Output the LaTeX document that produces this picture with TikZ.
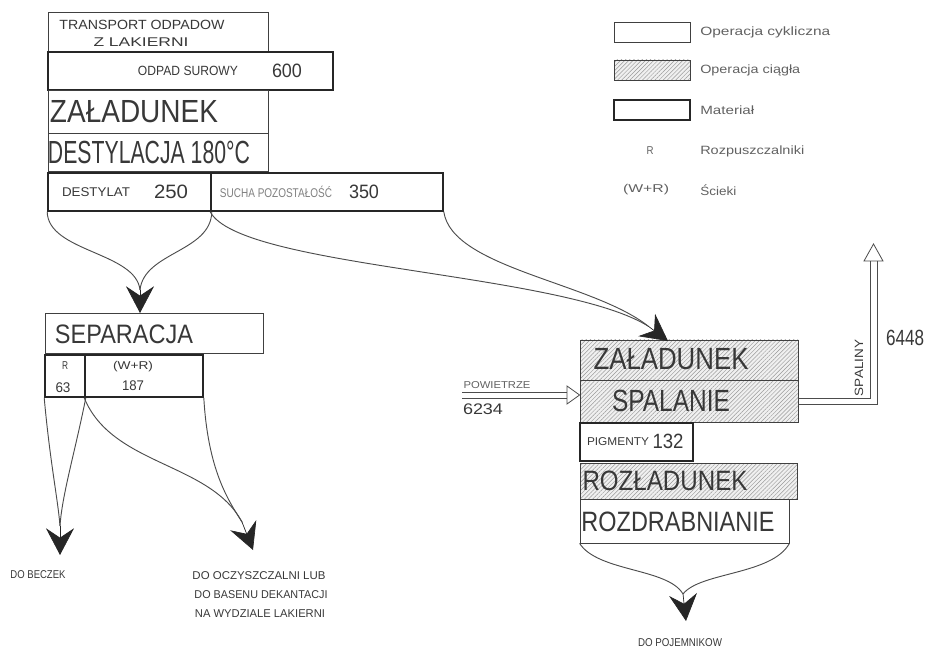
\documentclass[tikz,border=0pt]{standalone}
\usepackage{fontspec}
\setmainfont{Liberation Sans}
\usetikzlibrary{arrows.meta,patterns.meta,fit}
\newlength\px \setlength\px{0.75pt}
\newcommand\fw[2]{\resizebox{#1\px}{\height}{#2}}
\newcommand\fsz[1]{\fontsize{#1}{#1}\selectfont}
\begin{document}
\begin{tikzpicture}[x=0.75pt,y=-0.75pt,
  cyc/.style={draw=black!75, line width=0.6pt, inner sep=0pt},
  mat/.style={draw=black!85, line width=1.2pt, inner sep=0pt},
  hat/.style={draw=black!75, line width=0.6pt, inner sep=0pt, preaction={fill=black!6},
     pattern={Lines[angle=45,distance=2.2pt,line width=0.35pt]}, pattern color=black!40},
  tx/.style={inner sep=0pt, text=black!78},
  lt/.style={inner sep=0pt, text=black!62},
  cur/.style={draw=black!70, line width=0.7pt},
  hd/.style={draw=black!85, fill=black!85, line width=0.5pt, -{Stealth[length=20pt,width=21pt,inset=7pt]}},
  dl/.style={draw=black!70, line width=0.6pt},
  ohd/.style={draw=black!70, line width=0.6pt, fill=white}
]
\useasboundingbox (0,0) rectangle (925,652);

% ---------- left column boxes
\node[cyc, fit={(48,12)(268,52)}] (tr) {};
\node[mat, fit={(48,52)(333,90)}] (odp) {};
\node[cyc, fit={(48,90)(268,133)}] (zal1) {};
\node[cyc, fit={(48,133)(268,171)}] (des) {};
\node[mat, fit={(48,173)(211,211)}] (dst) {};
\node[mat, fit={(211,173)(443,211)}] (suc) {};

\node[tx, font=\fsz{10}] (t1) at (142,25) {\fw{165}{TRANSPORT ODPADOW}};
\node[tx, font=\fsz{9.5}] (t2) at (141,42) {\fw{95}{Z LAKIERNI}};
\node[tx, font=\fsz{10}] (t3) at (188,71) {\fw{100}{ODPAD SUROWY}};
\node[tx, font=\fsz{14.5}] (t4) at (287,71) {\fw{30}{600}};
\node[tx, font=\fsz{24}] (t5) at (134,112) {\fw{168}{ZAŁADUNEK}};
\node[tx, font=\fsz{24}] (t6) at (149,152) {\fw{202}{DESTYLACJA 180°C}};
\node[tx, font=\fsz{9.5}] (t7) at (96,192) {\fw{68}{DESTYLAT}};
\node[tx, font=\fsz{14.5}] (t8) at (171,192) {\fw{34}{250}};
\node[lt, font=\fsz{9.5}, text=black!50] (t9) at (276,192) {\fw{112}{SUCHA POZOSTAŁOŚĆ}};
\node[tx, font=\fsz{14.5}] (t10) at (364,192) {\fw{30}{350}};

% ---------- separation
\node[cyc, fit={(45,313)(263,353)}] (sep) {};
\node[mat, fit={(45,355)(85,397)}] (rb) {};
\node[mat, fit={(85,355)(203,397)}] (wrb) {};
\node[tx, font=\fsz{20}] (t11) at (124,334) {\fw{138}{SEPARACJA}};
\node[tx, font=\fsz{8.5}] (t12) at (65,366) {\fw{6}{R}};
\node[tx, font=\fsz{10.5}] (t13) at (63,388) {\fw{15}{63}};
\node[tx, font=\fsz{8.5}] (t14) at (133,367) {\fw{40}{(W+R)}};
\node[tx, font=\fsz{10.5}] (t15) at (133,386) {\fw{22}{187}};

\node[tx, font=\fsz{8.5}] (t16) at (38,575) {\fw{55}{DO BECZEK}};
\node[tx, font=\fsz{8.5}] (t17) at (259,576) {\fw{133}{DO OCZYSZCZALNI LUB}};
\node[tx, font=\fsz{8.5}] (t18) at (261,595) {\fw{133}{DO BASENU DEKANTACJI}};
\node[tx, font=\fsz{8.5}] (t19) at (260,614) {\fw{130}{NA WYDZIALE LAKIERNI}};

% ---------- right column
\node[hat, fit={(580,340)(798,380)}] (zal2) {};
\node[hat, fit={(580,380)(798,422)}] (spal) {};
\node[mat, fit={(580,423)(693,461)}] (pig) {};
\node[hat, fit={(580,463)(797,499)}] (rozl) {};
\node[cyc, fit={(580,499)(789,543)}] (rozd) {};
\node[tx, font=\fsz{23}] (t20) at (671,359) {\fw{155}{ZAŁADUNEK}};
\node[tx, font=\fsz{23}] (t21) at (671,401) {\fw{118}{SPALANIE}};
\node[tx, font=\fsz{8.5}] (t22) at (618,442) {\fw{62}{PIGMENTY}};
\node[tx, font=\fsz{15.5}] (t23) at (668,441) {\fw{31}{132}};
\node[tx, font=\fsz{21}] (t24) at (665,481) {\fw{165}{ROZŁADUNEK}};
\node[tx, font=\fsz{21}] (t25) at (678,522) {\fw{193}{ROZDRABNIANIE}};
\node[tx, font=\fsz{8.5}] (t26) at (680,643) {\fw{84}{DO POJEMNIKOW}};

\node[lt, font=\fsz{7.5}] (t27) at (497,385) {\fw{67}{POWIETRZE}};
\node[tx, font=\fsz{11.5}] (t28) at (483,409) {\fw{40}{6234}};
\node[tx, font=\fsz{9}, rotate=90] (t29) at (859,368) {\fw{56}{SPALINY}};
\node[tx, font=\fsz{16.5}] (t30) at (905,338) {\fw{38}{6448}};

% ---------- legend
\node[cyc, fit={(614,22)(690,42)}] (lg1) {};
\node[hat, fit={(614,60)(690,80)}] (lg2) {};
\node[mat, fit={(614,100)(690,120)}] (lg3) {};
\node[lt, font=\fsz{9}, anchor=west] (l1) at (700,32) {\fw{130}{Operacja cykliczna}};
\node[lt, font=\fsz{9}, anchor=west] (l2) at (700,70) {\fw{100}{Operacja ciągła}};
\node[lt, font=\fsz{9}, anchor=west] (l3) at (700,110) {\fw{54}{Materiał}};
\node[lt, font=\fsz{9}, anchor=west] (l4) at (700,151) {\fw{104}{Rozpuszczalniki}};
\node[lt, font=\fsz{9}, anchor=west] (l5) at (700,190) {\fw{36}{Ścieki}};
\node[lt, font=\fsz{8.5}] (l6) at (650,151) {\fw{7}{R}};
\node[lt, font=\fsz{8.5}] (l7) at (646,190) {\fw{46}{(W+R)}};

% ---------- connectors
\coordinate (ar1) at (140,290); \coordinate (tp1) at (140,313);
\draw[cur] (dst.south west) .. controls (48,252) and (136,252) .. (ar1);
\draw[cur] (dst.south east) .. controls (211,252) and (144,252) .. (ar1);
\draw[hd] (ar1) -- (tp1);

\coordinate (ar4) at (648,326); \coordinate (tp4) at (668,341);
\draw[cur] (suc.south west) .. controls (240,268) and (560,272) .. (ar4);
\draw[cur] (suc.south east) .. controls (452,268) and (592,282) .. (ar4);
\draw[hd] (ar4) -- (tp4);

\coordinate (ar2) at (60,526); \coordinate (tp2) at (60,555);
\draw[cur] (rb.south west) .. controls (50,462) and (58,500) .. (ar2);
\draw[cur] (rb.south east) .. controls (75,452) and (62,495) .. (ar2);
\draw[hd] (ar2) -- (tp2);

\coordinate (ar3) at (242,522); \coordinate (tp3) at (253,550);
\draw[cur] (wrb.south west) .. controls (112,466) and (210,462) .. (ar3);
\draw[cur] (wrb.south east) .. controls (208,470) and (228,500) .. (ar3);
\draw[hd] (ar3) -- (tp3);

\coordinate (ar5) at (683,594); \coordinate (tp5) at (686,621);
\draw[cur] (rozd.south west) .. controls (598,572) and (668,568) .. (ar5);
\draw[cur] (rozd.south east) .. controls (772,575) and (700,572) .. (ar5);
\draw[hd] (ar5) -- (tp5);

% air in
\coordinate (pw) at (462,395);
\draw[dl] ([yshift=2.25pt]pw) -- ++(105,0);
\draw[dl] ([yshift=-2.25pt]pw) -- ++(105,0);
\draw[ohd] (567,386) -- ([yshift=4.5pt]spal.west) -- (567,404) -- cycle;

% flue gas out
\coordinate (sp1) at (870,261); \coordinate (sp2) at (877,261);
\draw[dl] ([yshift=2.25pt]spal.east) -| (sp1);
\draw[dl] ([yshift=-2.25pt]spal.east) -| (sp2);
\draw[ohd] (864,261) -- (873.5,244) -- (883,261) -- cycle;
\end{tikzpicture}
\end{document}
